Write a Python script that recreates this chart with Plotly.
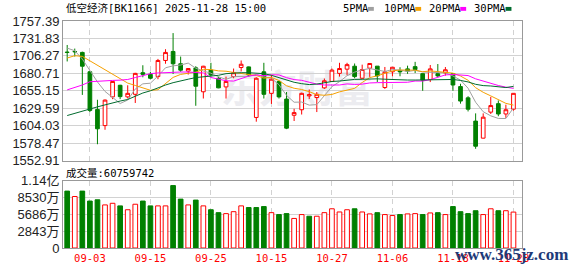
import plotly.graph_objects as go

# ---------------- data ----------------
dates = ["08-29", "09-01", "09-02", "09-03", "09-04", "09-05", "09-08", "09-09", "09-10", "09-11",
         "09-12", "09-15", "09-16", "09-17", "09-18", "09-19", "09-22", "09-23", "09-24", "09-25",
         "09-26", "09-29", "09-30", "10-09", "10-10", "10-13", "10-14", "10-15", "10-16", "10-17",
         "10-20", "10-21", "10-22", "10-23", "10-24", "10-27", "10-28", "10-29", "10-30", "10-31",
         "11-03", "11-04", "11-05", "11-06", "11-07", "11-10", "11-11", "11-12", "11-13", "11-14",
         "11-17", "11-18", "11-19", "11-20", "11-21", "11-24", "11-25", "11-26", "11-27", "11-28"]

opens = [1711.8, 1712.8, 1711.4, 1683.1, 1627.9, 1604.3, 1646.3, 1663.3, 1646.3, 1650.1,
         1681.7, 1679.3, 1676.0, 1699.6, 1712.8, 1694.8, 1684.1, 1688.8, 1653.8, 1685.5,
         1673.6, 1660.9, 1676.0, 1689.3, 1690.2, 1616.2, 1683.0, 1651.5, 1668.9, 1643.1,
         1619.4, 1627.5, 1647.7, 1645.4, 1659.5, 1668.9, 1680.7, 1686.9, 1691.2, 1673.6,
         1688.3, 1691.3, 1660.0, 1683.0, 1684.9, 1687.3, 1690.6, 1680.3, 1671.8, 1680.3,
         1681.3, 1680.3, 1661.4, 1644.9, 1610.9, 1585.9, 1624.0, 1636.4, 1621.3, 1628.3]
highs = [1722.3, 1717.0, 1712.5, 1684.0, 1642.1, 1642.5, 1669.5, 1664.0, 1663.3, 1681.5,
         1692.6, 1683.0, 1701.9, 1716.1, 1739.7, 1705.3, 1688.5, 1691.2, 1691.8, 1696.2,
         1676.0, 1676.0, 1687.8, 1699.6, 1690.8, 1675.0, 1696.2, 1678.4, 1670.0, 1653.4,
         1628.9, 1652.5, 1657.2, 1653.4, 1673.2, 1687.8, 1696.2, 1696.2, 1695.2, 1693.5,
         1695.6, 1691.5, 1690.1, 1690.0, 1689.7, 1692.0, 1697.6, 1680.8, 1693.0, 1694.4,
         1690.0, 1681.0, 1665.5, 1647.3, 1622.2, 1622.2, 1646.3, 1641.1, 1634.9, 1652.0]
lows = [1698.2, 1705.3, 1649.2, 1624.1, 1577.0, 1598.2, 1643.0, 1643.0, 1643.9, 1637.4,
        1675.0, 1672.2, 1672.2, 1694.8, 1679.8, 1683.0, 1679.0, 1633.3, 1643.9, 1676.0,
        1659.0, 1643.9, 1673.6, 1683.6, 1676.0, 1610.0, 1643.9, 1636.0, 1643.9, 1599.1,
        1611.0, 1620.5, 1643.1, 1624.1, 1658.0, 1668.0, 1676.0, 1678.4, 1673.6, 1673.0,
        1675.6, 1668.0, 1658.0, 1676.5, 1676.5, 1680.0, 1681.2, 1655.2, 1668.0, 1675.0,
        1677.4, 1655.2, 1636.4, 1625.0, 1570.3, 1585.5, 1621.3, 1618.0, 1615.6, 1626.0]
closes = [1711.4, 1712.4, 1691.2, 1626.5, 1599.6, 1641.6, 1668.9, 1646.7, 1651.5, 1680.7,
          1679.3, 1673.6, 1699.6, 1711.4, 1694.8, 1685.4, 1687.8, 1661.9, 1691.2, 1678.4,
          1659.5, 1668.9, 1681.7, 1694.1, 1678.4, 1673.6, 1650.1, 1672.2, 1646.3, 1600.5,
          1623.3, 1651.5, 1649.6, 1650.1, 1669.9, 1685.5, 1687.8, 1693.5, 1676.0, 1686.4,
          1695.2, 1677.0, 1683.0, 1689.7, 1683.0, 1684.0, 1686.3, 1670.8, 1687.3, 1677.0,
          1686.0, 1663.7, 1640.2, 1628.3, 1574.1, 1616.6, 1633.6, 1621.3, 1627.5, 1651.5]
# volume in 万 (10k shares)
volumes_wan = [9624, 8709, 9624, 7941, 8154, 7288, 7565, 7124, 6471, 7402,
               7941, 7124, 7124, 7124, 10556, 8268, 7288, 8105, 7124, 6471,
               5981, 5817, 6144, 7124, 6846, 6846, 7010, 5981, 5654, 5817,
               5000, 5654, 5376, 5376, 5981, 6634, 6095, 6471, 6634, 6095,
               5768, 5981, 5654, 5490, 5654, 5768, 5817, 5654, 5931, 5981,
               5654, 7010, 6144, 5817, 6307, 5654, 6634, 6307, 6307, 6075.9742]

# moving-average values at the start of the window (history before it is not shown)
ma5_head = [1717.7, 1713.9, 1701.7, 1684.0]
ma10_head = [1703.2, 1706.6, 1705.6, 1699.2, 1691.8, 1685.2, 1679.0, 1672.5, 1666.5]
ma20_head = [1656.6, 1660.0, 1663.7, 1668.5, 1669.4, 1670.0, 1670.4, 1670.8, 1671.8, 1674.6,
             1677.9, 1680.3, 1681.3, 1682.1, 1682.1, 1682.7, 1682.7, 1681.7, 1681.3]
ma30_head = [1619.0, 1622.3, 1625.5, 1629.3, 1631.7, 1634.6, 1637.8, 1640.2, 1642.5, 1647.3,
             1652.0, 1655.2, 1660.0, 1663.7, 1667.1, 1670.0, 1672.2, 1674.6, 1675.6, 1677.0,
             1677.9, 1680.3, 1681.3, 1681.7, 1681.7, 1681.3, 1680.3, 1677.9, 1674.6]

price_ticks = [1552.91, 1578.47, 1604.03, 1629.59, 1655.15, 1680.71, 1706.27, 1731.83, 1757.39]
vol_ticks = [0, 28.43e6, 56.86e6, 85.29e6, 113.72e6]
vol_tick_text = ["0", "2843万", "5686万", "8530万", "1.14亿"]
label_idx = [3, 11, 19, 27, 35, 43, 51, 59]
title_text = "低空经济[BK1166] 2025-11-28 15:00"
vol_label = "成交量:60759742"
ma_names = ["5PMA", "10PMA", "20PMA", "30PMA"]
ma_colors = ["#a0a0a0", "#f5a000", "#ff00ff", "#006b2e"]

# ---------------- derived ----------------
def moving_average(head, k):
    out = []
    for i in range(len(closes)):
        if i < len(head):
            out.append(head[i])
        else:
            out.append(sum(closes[i - k + 1:i + 1]) / k)
    return out

mas = [moving_average(ma5_head, 5), moving_average(ma10_head, 10),
       moving_average(ma20_head, 20), moving_average(ma30_head, 30)]

x = list(range(len(dates)))
RED = "#ff0000"
GREEN = "#008000"

vol_fill, vol_line = [], []
for i, c in enumerate(closes):
    prev = closes[i - 1] if i > 0 else opens[0]
    if c > prev:
        vol_fill.append("#ffffff"); vol_line.append(RED)
    else:
        vol_fill.append(GREEN); vol_line.append(GREEN)

fig = go.Figure()
fig.add_trace(go.Candlestick(
    x=x, open=opens, high=highs, low=lows, close=closes,
    increasing=dict(line=dict(color=RED, width=1), fillcolor="#ffffff"),
    decreasing=dict(line=dict(color=GREEN, width=1), fillcolor=GREEN),
    whiskerwidth=0, xaxis="x", yaxis="y", showlegend=False, hoverinfo="skip"))
for ma, col in zip(mas, ma_colors):
    fig.add_trace(go.Scatter(x=x, y=ma, mode="lines", line=dict(color=col, width=1),
                             xaxis="x", yaxis="y", showlegend=False, hoverinfo="skip"))
fig.add_trace(go.Bar(x=x, y=[v * 1e4 for v in volumes_wan], width=0.62,
                     marker=dict(color=vol_fill, line=dict(color=vol_line, width=1)),
                     xaxis="x2", yaxis="y2", showlegend=False, hoverinfo="skip"))

# ---------------- layout ----------------
L, R, T, B, W, H = 56, 56, 21, 21, 578, 276
PW, PH = W - L - R, H - T - B

def px2x(px):
    return (px - L) / PW

def px2y(py):
    return (H - B - py) / PH

xr = [-0.555, 60.13]
grid_c = "#d2d2d2"
axis_c = "#999999"
mono = "DejaVu Sans Mono, Noto Sans CJK SC, monospace"

fig.update_layout(
    width=W, height=H, margin=dict(l=L, r=R, t=T, b=B, pad=0),
    paper_bgcolor="#ffffff", plot_bgcolor="rgba(0,0,0,0)",
    showlegend=False, bargap=0,
    xaxis=dict(domain=[0, 1], anchor="y", range=xr, tickvals=label_idx, showticklabels=False,
               showgrid=True, gridcolor=grid_c, griddash="5px,4px", gridwidth=1,
               showline=True, mirror=True, linecolor=axis_c, linewidth=1, zeroline=False,
               ticks="", rangeslider=dict(visible=False), fixedrange=True),
    yaxis=dict(domain=[px2y(165), 1], anchor="x", range=[price_ticks[0], price_ticks[-1]],
               tickvals=price_ticks, ticktext=["%.2f" % v for v in price_ticks],
               showgrid=True, gridcolor=grid_c, gridwidth=1, zeroline=False,
               showline=True, mirror=True, linecolor=axis_c, linewidth=1, ticks="",
               tickfont=dict(family="Liberation Sans, Arial", size=13, color="#222222")),
    xaxis2=dict(domain=[0, 1], anchor="y2", range=xr, tickvals=label_idx,
                ticktext=[dates[i] for i in label_idx], showgrid=True, gridcolor=grid_c,
                griddash="5px,4px", gridwidth=1, showline=True, mirror=True,
                linecolor=axis_c, linewidth=1, zeroline=False, ticks="",
                tickfont=dict(family=mono, size=10.5, color="#ff0000")),
    yaxis2=dict(domain=[0, px2y(185.7)], anchor="x2", range=[0, vol_ticks[-1]],
                tickvals=vol_ticks, ticktext=vol_tick_text, showgrid=True, gridcolor=grid_c,
                gridwidth=1, zeroline=False, showline=True, mirror=True, linecolor=axis_c,
                linewidth=1, ticks="",
                tickfont=dict(family="Liberation Sans, Noto Sans CJK SC", size=13, color="#222222")),
)

annotations = [
    dict(text=title_text, x=px2x(57), y=px2y(8), xanchor="left", yanchor="middle",
         font=dict(family=mono, size=10.5, color="#000000")),
    dict(text=vol_label, x=px2x(57), y=px2y(177.5), xanchor="left", yanchor="middle",
         font=dict(family=mono, size=10.5, color="#000000")),
    dict(text="www.365jz.com", x=px2x(571), y=px2y(261.5), xanchor="right", yanchor="middle",
         font=dict(family="Liberation Serif", size=17, color="#1e3a78", weight="bold")),
]
legend_x = [338.3, 380.0, 425.7, 471.7]
shapes = []
for name, col, lx in zip(ma_names, ma_colors, legend_x):
    annotations.append(dict(text=name, x=px2x(lx), y=px2y(8), xanchor="left", yanchor="middle",
                            font=dict(family=mono, size=10.5, color="#000000")))
    mx = lx + len(name) * 6.32 + 2.0
    shapes.append(dict(type="rect", xref="paper", yref="paper", x0=px2x(mx), x1=px2x(mx + 6),
                       y0=px2y(10.5), y1=px2y(6.5), line=dict(width=0), fillcolor=col))
for a in annotations:
    a.update(xref="paper", yref="paper", showarrow=False)

shapes.append(dict(type="rect", xref="paper", yref="paper", x0=px2x(205), x1=px2x(382),
                   y0=px2y(112), y1=px2y(76), line=dict(width=0), fillcolor="rgba(0,0,0,0)",
                   layer="below",
                   label=dict(text="东方财富", textposition="middle center",
                              font=dict(family="Noto Sans CJK SC", size=38, color="#ececf0",
                                        weight="bold"))))
fig.update_layout(annotations=annotations, shapes=shapes)

fig.write_html("out.html", include_plotlyjs=True, config={"displayModeBar": False, "staticPlot": True})
